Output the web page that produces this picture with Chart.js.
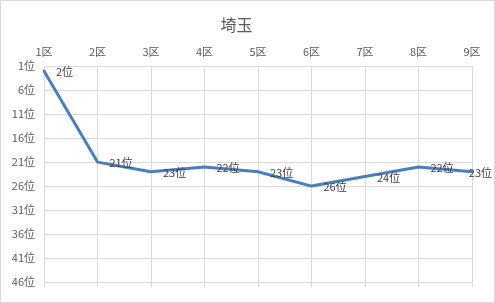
<!DOCTYPE html>
<html>
<head>
<meta charset="utf-8">
<script src="https://cdn.jsdelivr.net/npm/chart.js@4/dist/chart.umd.min.js"></script>
<style>
  html, body { margin: 0; padding: 0; background: #fff; }
  #wrap { width: 495px; height: 303px; box-sizing: border-box; border: 1px solid #d9d9d9; }
  canvas { display: block; }
</style>
</head>
<body>
<div id="wrap"><canvas id="rankChart" width="493" height="301"></canvas></div>
<script>
const chartTitle = "埼玉";
const districts = ["1区", "2区", "3区", "4区", "5区", "6区", "7区", "8区", "9区"];
const ranks = [2, 21, 23, 22, 23, 26, 24, 22, 23];
const rankMin = 1;
const rankMax = 46;
const rankStep = 5;

const FONT = "'Noto Sans CJK JP', 'Noto Sans', sans-serif";

// 各点の右側に「n位」を表示
const pointLabels = {
    id: 'pointLabels',
    afterDatasetsDraw(chart) {
        const ctx = chart.ctx;
        const meta = chart.getDatasetMeta(0);
        ctx.save();
        ctx.font = "11px " + FONT;
        ctx.fillStyle = "#404040";
        ctx.textBaseline = "middle";
        ctx.textAlign = "left";
        meta.data.forEach((pt, i) => {
            const text = ranks[i] + "位";
            const w = ctx.measureText(text).width;
            let x = pt.x + 12;
            if (x + w > chart.width - 2) x = chart.width - 2 - w;
            ctx.fillText(text, x, pt.y + 1);
        });
        ctx.restore();
    }
};

new Chart(document.getElementById('rankChart'), {
    type: 'line',
    data: {
        labels: districts,
        datasets: [{
            data: ranks,
            borderColor: '#4a7ebf',
            borderWidth: 3,
            pointRadius: 0,
            tension: 0,
            borderCapStyle: 'round',
            borderJoinStyle: 'round',
            xAxisID: 'x',
            yAxisID: 'y'
        }]
    },
    options: {
        responsive: false,
        animation: false,
        layout: { padding: { left: 0, right: 22, top: 0, bottom: 0 } },
        plugins: {
            legend: { display: false },
            tooltip: { enabled: false },
            title: {
                display: true,
                text: chartTitle,
                color: '#595959',
                font: { family: FONT, size: 16, weight: 'normal' },
                padding: { top: 14, bottom: 8 }
            }
        },
        scales: {
            x: {
                type: 'category',
                position: 'top',
                offset: false,
                afterFit: s => { s.height = 24; },
                grid: { color: '#d9d9d9', drawTicks: false },
                border: { color: '#d9d9d9' },
                ticks: { color: '#595959', font: { family: FONT, size: 11 }, padding: 8, maxRotation: 0, autoSkip: false }
            },
            x2: {
                type: 'category',
                labels: districts,
                position: 'bottom',
                offset: false,
                afterFit: s => { s.height = 20; },
                grid: { color: '#d9d9d9', drawOnChartArea: false, drawTicks: true, tickLength: 5 },
                border: { display: false },
                ticks: { display: false }
            },
            y: {
                reverse: true,
                min: rankMin,
                max: rankMax,
                afterFit: s => { s.width = 43; },
                grid: { color: '#d9d9d9', drawTicks: false },
                border: { color: '#d9d9d9' },
                ticks: {
                    stepSize: rankStep,
                    color: '#595959',
                    font: { family: FONT, size: 11 },
                    padding: 9,
                    callback: v => v + "位"
                }
            }
        }
    },
    plugins: [pointLabels]
});
</script>
</body>
</html>
